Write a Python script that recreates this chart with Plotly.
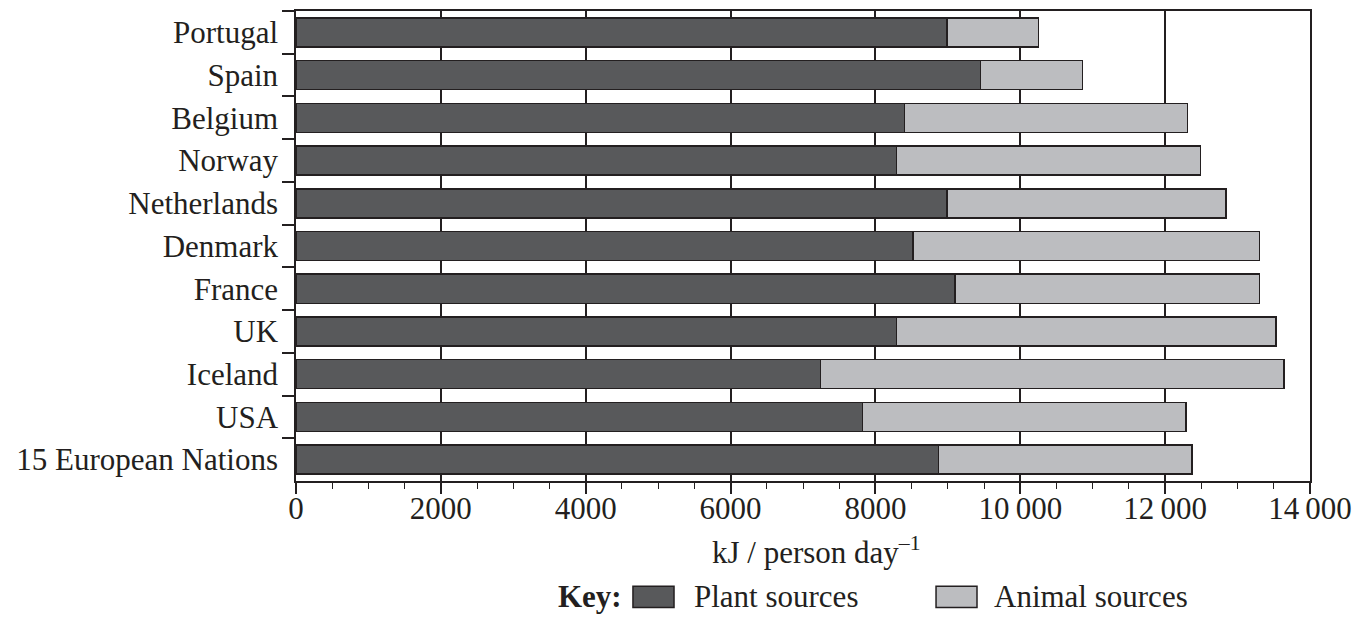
import plotly.graph_objects as go

# Daily energy intake by source (kJ per person per day)
countries = ["Portugal", "Spain", "Belgium", "Norway", "Netherlands", "Denmark",
             "France", "UK", "Iceland", "USA", "15 European Nations"]
plant_kj = [8990, 9450, 8400, 8290, 8990, 8520, 9100, 8290, 7240, 7820, 8870]
animal_kj = [1260, 1410, 3910, 4200, 3850, 4780, 4200, 5240, 6400, 4470, 3500]

x_tick_vals = [0, 2000, 4000, 6000, 8000, 10000, 12000, 14000]
x_tick_text = ["0", "2000", "4000", "6000", "8000",
               "10\u2009000", "12\u2009000", "14\u2009000"]

series_names = ["Plant sources", "Animal sources"]

INK = "#231f20"
PLANT_COLOR = "#58595b"
ANIMAL_COLOR = "#bcbdc0"
FONT = "Liberation Serif, Times New Roman, serif"

fig = go.Figure()
fig.add_trace(go.Bar(
    y=countries, x=plant_kj, orientation="h", name=series_names[0],
    marker=dict(color=PLANT_COLOR, line=dict(color=INK, width=1.5)),
    showlegend=False,
))
fig.add_trace(go.Bar(
    y=countries, x=animal_kj, orientation="h", name=series_names[1],
    marker=dict(color=ANIMAL_COLOR, line=dict(color=INK, width=1.5)),
    showlegend=False,
))

fig.update_layout(
    width=1371, height=617,
    margin=dict(l=296, r=61, t=9, b=136),
    barmode="stack", bargap=0.32,
    plot_bgcolor="white", paper_bgcolor="white",
    font=dict(family=FONT, size=31, color=INK),
)

fig.update_xaxes(
    range=[0, 14000],
    tickvals=x_tick_vals, ticktext=x_tick_text,
    ticks="outside", ticklen=11, tickwidth=1.5, tickcolor=INK,
    minor=dict(dtick=500, ticks="outside", ticklen=6, tickwidth=1.2,
               tickcolor=INK, showgrid=False),
    showgrid=True, gridcolor=INK, gridwidth=1.5,
    showline=True, linecolor=INK, linewidth=1.5, mirror=True,
    zeroline=False,
    ticklabelstandoff=-12,
    tickfont=dict(size=31, family=FONT, color=INK),
)

fig.update_yaxes(
    autorange="reversed",
    tickson="boundaries",
    ticks="outside", ticklen=12, tickwidth=1.5, tickcolor=INK,
    showgrid=False,
    showline=True, linecolor=INK, linewidth=1.5, mirror=True,
    ticklabelstandoff=10,
    tickfont=dict(size=31, family=FONT, color=INK),
)

# Axis title
fig.add_annotation(
    text="kJ / person day<sup>–1</sup>",
    xref="paper", yref="paper", x=0.5138, y=-0.147,
    xanchor="center", yanchor="middle", showarrow=False,
    font=dict(size=31, family=FONT, color=INK),
)

# Key row beneath the axis title
key_y = -0.2467
fig.add_annotation(
    text="<b>Key:</b>", xref="paper", yref="paper", x=0.3235, y=key_y,
    xanchor="right", yanchor="middle", showarrow=False,
    font=dict(size=31, family=FONT, color=INK),
)
key_items = [
    (series_names[0], PLANT_COLOR, 0.3323, 0.3728, 0.3905),
    (series_names[1], ANIMAL_COLOR, 0.6312, 0.6716, 0.6864),
]
for label, color, sx0, sx1, tx in key_items:
    fig.add_shape(
        type="rect", xref="paper", yref="paper",
        x0=sx0, x1=sx1, y0=-0.2694, y1=-0.224,
        fillcolor=color, line=dict(color=INK, width=1.5),
    )
    fig.add_annotation(
        text=label, xref="paper", yref="paper", x=tx, y=key_y,
        xanchor="left", yanchor="middle", showarrow=False,
        font=dict(size=31, family=FONT, color=INK),
    )

fig.write_html("out.html")
